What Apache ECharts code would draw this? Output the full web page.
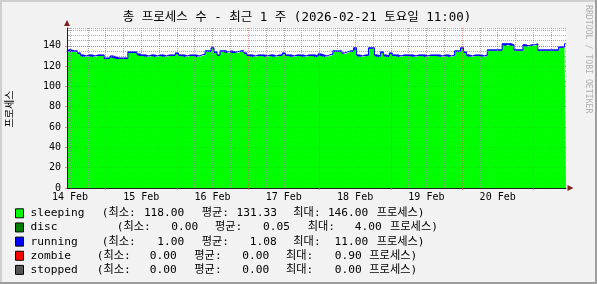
<!DOCTYPE html>
<html>
<head>
<meta charset="utf-8">
<script src="https://cdn.jsdelivr.net/npm/echarts@6/dist/echarts.min.js"></script>
<style>html,body{margin:0;padding:0;background:#F2F2F2;}#c{width:597px;height:284px;}</style>
</head>
<body>
<div id="c"></div>
<script>
// ---- data ----
const titleText = '총 프로세스 수 - 최근 1 주 (2026-02-21 토요일 11:00)';
const yTitle = '프로세스';
const watermark = 'RRDTOOL / TOBI OETIKER';
const dayLabels = ['14 Feb','15 Feb','16 Feb','17 Feb','18 Feb','19 Feb','20 Feb'];
const startHour = 11; // 14 Feb 11:00
const hoursSpan = 168;
// hour offsets from 14 Feb 11:00
const hours = [];
for (let i = 0; i <= hoursSpan; i++) hours.push(String(i));

const sleeping = [
 133,134,134,134,132,
 130,129,130,130,129,130,130,130,
 127,127,129,128,127,127,127,127,
 133,133,133,131,
 130,130,129,130,130,129,130,130,129,130,130,130,
 132,
 130,130,129,130,130,130,129,130,
 131,
 134,134,137,133,130,
 134,134,133,134,
 133,133,134,134,132,130,
 130,129,130,130,130,129,130,130,129,130,130,
 132,
 130,130,129,130,130,130,129,130,130,130,129,
 131,
 130,129,130,
 131,
 134,134,134,
 132,
 133,134,134,
 136,
 130,129,130,130,
 137,137,
 130,129,133,130,129,132,
 130,130,129,130,130,130,130,129,130,130,130,129,130,130,130,130,129,130,130,129,130,
 134,134,137,133,
 130,129,130,130,130,129,130,
 135,135,135,135,135,
 141,140,141,140,
 135,135,135,
 140,139,140,140,141,
 135,135,135,135,135,135,135,
 138,138,141
];
const running = [
 1,2,1,1,1,1,1,1,1,1,1,1,1,1,1,1,1,1,1,1,1,1,1,1,
 1,1,1,1,1,1,1,1,1,1,1,1,1,1,1,1,1,1,1,1,1,1,1,1,
 1,1,1,1,1,1,1,1,1,1,1,1,1,1,1,1,1,1,1,1,1,1,1,1,
 1,1,1,1,1,1,1,1,1,1,1,1,1,1,1,1,1,1,1,1,1,1,1,1,
 1,2,1,1,1,1,1,1,1,1,1,1,1,1,1,1,1,1,1,1,1,1,1,1,
 1,1,1,1,1,1,1,1,1,1,1,1,1,1,1,1,1,1,1,1,1,1,1,1,
 1,1,1,1,2,1,1,1,1,1,1,1,1,1,1,1,1,1,1,1,1,1,1,1,
 1
];

const seriesNames = ['sleeping','disc','running','zombie','stopped'];
const statMin = [118.00, 0.00, 1.00, 0.00, 0.00];
const statAvg = [131.33, 0.05, 1.08, 0.00, 0.00];
const statMax = [146.00, 4.00, 11.00, 0.90, 0.00];
const statLabels = ['(최소:', '평균:', '최대:', '프로세스)'];

// ---- styles / layout ----
const colors = ['#00FF00','#008000','#0000FF','#FF0000','#555555'];
const MONO = "'DejaVu Sans Mono','Noto Sans CJK KR',monospace";
const GRID = {left:67, right:31, top:28, bottom:96};
const W = 597, H = 284;
const MGRID = 'rgba(222,79,79,0.6)';
const MINGRID = 'rgba(143,143,143,0.75)';
const legendCols = [
 [101.7,184.3,201.7,277.0,293.3,368.3,376.7],
 [116.7,198.3,215.0,290.0,307.7,381.7,390.0],
 [101.7,184.3,201.7,276.7,293.3,368.3,376.7],
 [96.7,176.7,194.3,269.3,286.0,361.7,369.3],
 [96.7,176.7,194.3,269.3,286.0,361.7,369.3]
];
const legendY0 = 213.3, legendDY = 14.15;

const hod = h => (Number(h) + startHour) % 24;
const midnights = hours.map(Number).filter(h => hod(h) === 0);
const noons = hours.map(Number).filter(h => hod(h) === 12);
const sixes = hours.map(Number).filter(h => hod(h) % 6 === 0 && hod(h) !== 0);

const graphics = [];
// frame
graphics.push({type:'rect', shape:{x:0,y:0,width:W,height:2}, style:{fill:'#CFCFCF'}, silent:true});
graphics.push({type:'rect', shape:{x:0,y:0,width:2,height:H}, style:{fill:'#CFCFCF'}, silent:true});
graphics.push({type:'rect', shape:{x:0,y:H-2,width:W,height:2}, style:{fill:'#9E9E9E'}, silent:true});
graphics.push({type:'rect', shape:{x:W-2,y:0,width:2,height:H}, style:{fill:'#9E9E9E'}, silent:true});
// arrows
const gx = GRID.left, gyb = H - GRID.bottom, gxr = W - GRID.right;
graphics.push({type:'polygon', shape:{points:[[gx-3,GRID.top-2],[gx+3,GRID.top-2],[gx,GRID.top-8]]}, style:{fill:'#801F1F'}, z:10});
graphics.push({type:'polygon', shape:{points:[[gxr+1.5,gyb-3],[gxr+1.5,gyb+3],[gxr+7.5,gyb]]}, style:{fill:'#801F1F'}, z:10});
// title
graphics.push({type:'text', x:297, y:18, style:{text:titleText, font:'12.5px ' + MONO, fill:'#000', align:'center', verticalAlign:'middle'}});
// y title
graphics.push({type:'text', x:10, y:109, rotation:Math.PI/2, style:{text:yTitle, font:'10px ' + MONO, fill:'#000', align:'center', verticalAlign:'middle'}});
// watermark
graphics.push({type:'text', x:588, y:5, rotation:-Math.PI/2, style:{text:watermark, font:'8.2px ' + MONO, fill:'#B0B0B0', align:'left', verticalAlign:'middle'}});
// legend
const fmt = v => v.toFixed(2);
seriesNames.forEach((name, r) => {
  const y = legendY0 + r * legendDY;
  const c = legendCols[r];
  const f = '11.2px ' + MONO;
  graphics.push({type:'rect', shape:{x:15.5,y:y-4.5,width:8,height:9}, style:{fill:colors[r], stroke:'#000', lineWidth:1}});
  const t = (x, text, align) => graphics.push({type:'text', x:x, y:y, style:{text:text, font:f, fill:'#000', align:align, verticalAlign:'middle'}});
  t(30.5, name, 'left');
  t(c[0], statLabels[0], 'left');
  t(c[1], fmt(statMin[r]), 'right');
  t(c[2], statLabels[1], 'left');
  t(c[3], fmt(statAvg[r]), 'right');
  t(c[4], statLabels[2], 'left');
  t(c[5], fmt(statMax[r]), 'right');
  t(c[6], statLabels[3], 'left');
});

const chart = echarts.init(document.getElementById('c'), null, {renderer:'canvas'});
chart.setOption({
  backgroundColor:'#F2F2F2',
  animation:false,
  grid:{left:GRID.left, right:GRID.right, top:GRID.top, bottom:GRID.bottom, show:true, backgroundColor:'#FFFFFF', borderWidth:0},
  xAxis:[
    // hidden category axis carrying the data
    {type:'category', data:hours, boundaryGap:false, position:'bottom', show:false},
    // midnight grid + noon labels
    {type:'value', min:0, max:hoursSpan, position:'bottom', z:6,
     axisLine:{show:true, onZero:false, lineStyle:{color:'#1F1F1F', width:1}},
     axisTick:{show:true, length:2, customValues:midnights, lineStyle:{color:MGRID}},
     axisLabel:{show:true, customValues:noons, margin:4, fontFamily:MONO, fontSize:10, color:'#000',
       formatter:(v)=>dayLabels[Math.floor((Number(v)+startHour)/24)]},
     splitLine:{show:true, lineStyle:{color:MGRID, width:1, type:[1,1]}}},
    // 6-hour grid
    {type:'value', min:0, max:hoursSpan, position:'top', z:5,
     axisLine:{show:false}, axisLabel:{show:false},
     axisTick:{show:false, customValues:sixes},
     splitLine:{show:true, lineStyle:{color:MINGRID, width:1, type:[1,1]}}}
  ],
  yAxis:[
    {type:'value', min:0, max:157.5, interval:20, position:'left', z:6,
     axisLine:{show:true, lineStyle:{color:'#1F1F1F', width:1}},
     axisTick:{show:true, length:2, lineStyle:{color:MGRID}},
     axisLabel:{show:true, margin:6, fontFamily:MONO, fontSize:10, color:'#000', showMaxLabel:false},
     splitLine:{show:true, showMinLine:false, showMaxLine:false, lineStyle:{color:MGRID, width:1, type:[1,1]}}},
    {type:'value', min:0, max:157.5, interval:5, position:'right', z:5,
     axisLine:{show:false},
     axisTick:{show:true, length:2, lineStyle:{color:MINGRID}},
     axisLabel:{show:false},
     splitLine:{show:true, showMinLine:false, lineStyle:{color:MINGRID, width:1, type:[1,1]}}}
  ],
  series:[
    {name:'sleeping', type:'line', stack:'p', step:'middle', xAxisIndex:0, yAxisIndex:0, data:sleeping, symbol:'none', showSymbol:false,
     lineStyle:{width:0, opacity:0}, areaStyle:{color:'#00FF00', opacity:1}, z:2},
    {name:'running', type:'line', stack:'p', step:'middle', xAxisIndex:0, yAxisIndex:0, data:running, symbol:'none', showSymbol:false,
     lineStyle:{width:1, color:'#0000FF'}, areaStyle:{color:'#0000FF', opacity:1}, z:2}
  ],
  graphic:graphics
});
</script>
</body>
</html>
